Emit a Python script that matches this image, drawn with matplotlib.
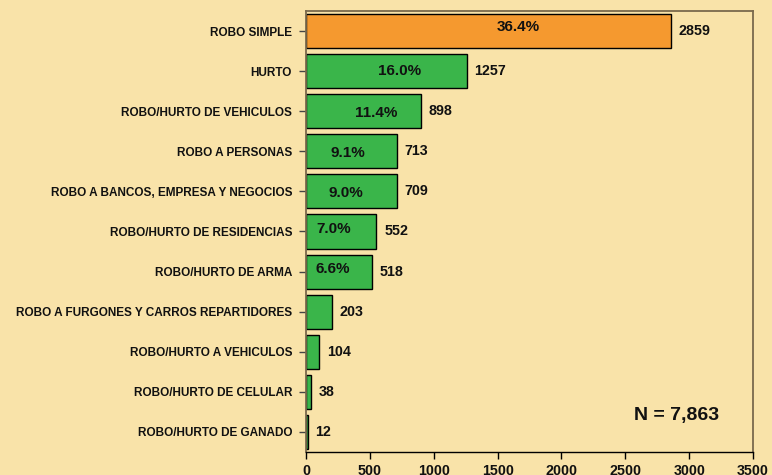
import matplotlib.pyplot as plt
import numpy as np

plt.rcParams['font.family'] = ['Liberation Sans', 'DejaVu Sans']
plt.rcParams['font.weight'] = 'bold'

categorias = ['ROBO SIMPLE', 'HURTO', 'ROBO/HURTO DE VEHICULOS', 'ROBO A PERSONAS',
              'ROBO A BANCOS, EMPRESA Y NEGOCIOS', 'ROBO/HURTO DE RESIDENCIAS',
              'ROBO/HURTO DE ARMA', 'ROBO A FURGONES Y CARROS REPARTIDORES',
              'ROBO/HURTO A VEHICULOS', 'ROBO/HURTO DE CELULAR', 'ROBO/HURTO DE GANADO']
casos = [2859, 1257, 898, 713, 709, 552, 518, 203, 104, 38, 12]
porcentajes = ['36.4%', '16.0%', '11.4%', '9.1%', '9.0%', '7.0%', '6.6%']
# donde va cada porcentaje dentro de su barra (x en casos, desplazamiento en y)
pos_pct_x = [1660, 736, 548, 329, 313, 219, 211]
pos_pct_dy = [-0.1, 0.0, 0.05, 0.05, 0.05, -0.07, -0.07]
total = 'N = 7,863'

fondo = '#F9E3A9'
naranja = '#F5992F'
verde = '#3AB54A'
marco = '#7A6A4C'

fig = plt.figure(figsize=(7.72, 4.75), dpi=100, facecolor=fondo)
ax = fig.add_axes([306 / 772, 1 - 452 / 475, 447 / 772, 441 / 475])
ax.set_facecolor(fondo)

y = np.arange(len(categorias))
colores = [naranja] + [verde] * (len(categorias) - 1)
ax.barh(y, casos, height=0.85, color=colores, edgecolor='black', linewidth=1)

for i, v in enumerate(casos):
    ax.annotate(str(v), (v, i), xytext=(5.5, 0), textcoords='offset points',
                ha='left', va='center', fontsize=10.3, fontweight='bold', color='#111111')

for i, p in enumerate(porcentajes):
    ax.text(pos_pct_x[i], i + pos_pct_dy[i], p, ha='center', va='center',
            fontsize=11, fontweight='bold', color='#111111')

ax.text(2905, 9.58, total, ha='center', va='center', fontsize=14,
        fontweight='bold', color='#111111')

ax.set_xlim(0, 3500)
ax.set_ylim(len(categorias) - 0.5, -0.5)
ax.set_yticks(y)
ax.set_yticklabels(categorias, fontsize=8.5, fontweight='bold', color='#111111')
ax.set_xticks(np.arange(0, 3501, 500))
ax.set_xticklabels([str(t) for t in range(0, 3501, 500)], fontsize=10.3,
                   fontweight='bold', color='#111111')
ax.tick_params(axis='x', length=5, width=1, color='black', pad=3.5)
ax.tick_params(axis='y', length=5, width=1, color='#444444', pad=5)

for lado in ['top', 'right', 'left']:
    ax.spines[lado].set_color(marco)
    ax.spines[lado].set_linewidth(1.3)
ax.spines['bottom'].set_color('black')
ax.spines['bottom'].set_linewidth(1)

fig.savefig('out.png', dpi=100, facecolor=fondo)
